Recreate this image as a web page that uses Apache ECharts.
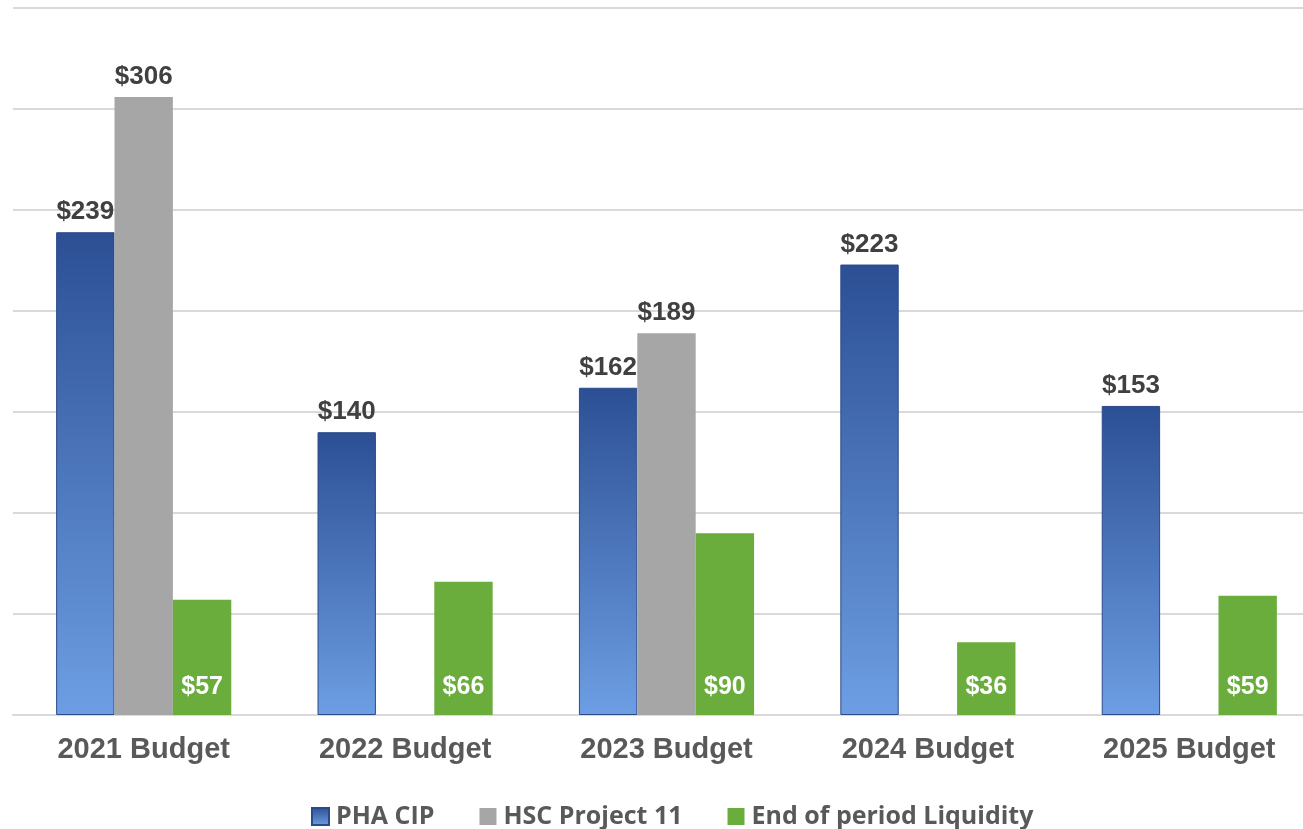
<!DOCTYPE html>
<html>
<head>
<meta charset="utf-8">
<script src="https://cdn.jsdelivr.net/npm/echarts@6/dist/echarts.min.js"></script>
<style>
html,body{margin:0;padding:0;background:#fff;overflow:hidden;}
#chart{width:1320px;height:829px;}
</style>
</head>
<body>
<div id="chart"></div>
<script>
const categories = ['2021 Budget', '2022 Budget', '2023 Budget', '2024 Budget', '2025 Budget'];
const phaCip = [239, 140, 162, 223, 153];
const hscProject11 = [306, null, 189, null, null];
const liquidity = [57, 66, 90, 36, 59];
const seriesNames = ['PHA CIP', 'HSC Project 11', 'End of period Liquidity'];

const chart = echarts.init(document.getElementById('chart'));
const labelFont = 'Liberation Sans, Arial, sans-serif';
const fmt = p => (p.value == null ? '' : '$' + p.value);

chart.setOption({
  backgroundColor: '#ffffff',
  animation: false,
  grid: { left: 13, right: 0, top: 8, height: 707, containLabel: false },
  legend: {
    top: 799,
    left: 306,
    itemWidth: 17,
    itemHeight: 17,
    itemGap: 45,
    icon: 'rect',
    textStyle: { fontFamily: 'Open Sans, sans-serif', fontSize: 25, color: '#595959', fontWeight: 'bold', padding: [0, 0, 0, 2] },
    data: seriesNames
  },
  xAxis: {
    type: 'category',
    data: categories,
    axisLine: { show: true, lineStyle: { color: '#d9d9d9', width: 2 } },
    axisTick: { show: false },
    axisLabel: { fontFamily: labelFont, fontSize: 29, fontWeight: 'bold', color: '#595959', margin: 20 }
  },
  yAxis: {
    type: 'value',
    min: 0,
    max: 350,
    interval: 50,
    axisLabel: { show: false },
    axisLine: { show: false },
    axisTick: { show: false },
    splitLine: { lineStyle: { color: '#d9d9d9', width: 2 } }
  },
  series: [
    {
      name: seriesNames[0],
      type: 'bar',
      data: phaCip,
      barGap: '0%',
      barCategoryGap: '33%',
      itemStyle: {
        color: new echarts.graphic.LinearGradient(0, 0, 0, 1, [
          { offset: 0, color: '#2c4f94' },
          { offset: 1, color: '#6d9ee3' }
        ]),
        borderColor: '#2a4a8a',
        borderWidth: 1
      },
      label: { show: true, position: 'top', distance: 7, formatter: fmt, fontFamily: labelFont, fontSize: 26, fontWeight: 'bold', color: '#404040' }
    },
    {
      name: seriesNames[1],
      type: 'bar',
      data: hscProject11,
      barGap: '0%',
      barCategoryGap: '33%',
      itemStyle: { color: '#a6a6a6' },
      label: { show: true, position: 'top', distance: 7, formatter: fmt, fontFamily: labelFont, fontSize: 26, fontWeight: 'bold', color: '#404040' }
    },
    {
      name: seriesNames[2],
      type: 'bar',
      data: liquidity,
      barGap: '0%',
      barCategoryGap: '33%',
      itemStyle: { color: '#6aad3d' },
      label: { show: true, position: 'insideBottom', distance: 15, formatter: fmt, fontFamily: labelFont, fontSize: 25, fontWeight: 'bold', color: '#ffffff' }
    }
  ]
});
</script>
</body>
</html>
